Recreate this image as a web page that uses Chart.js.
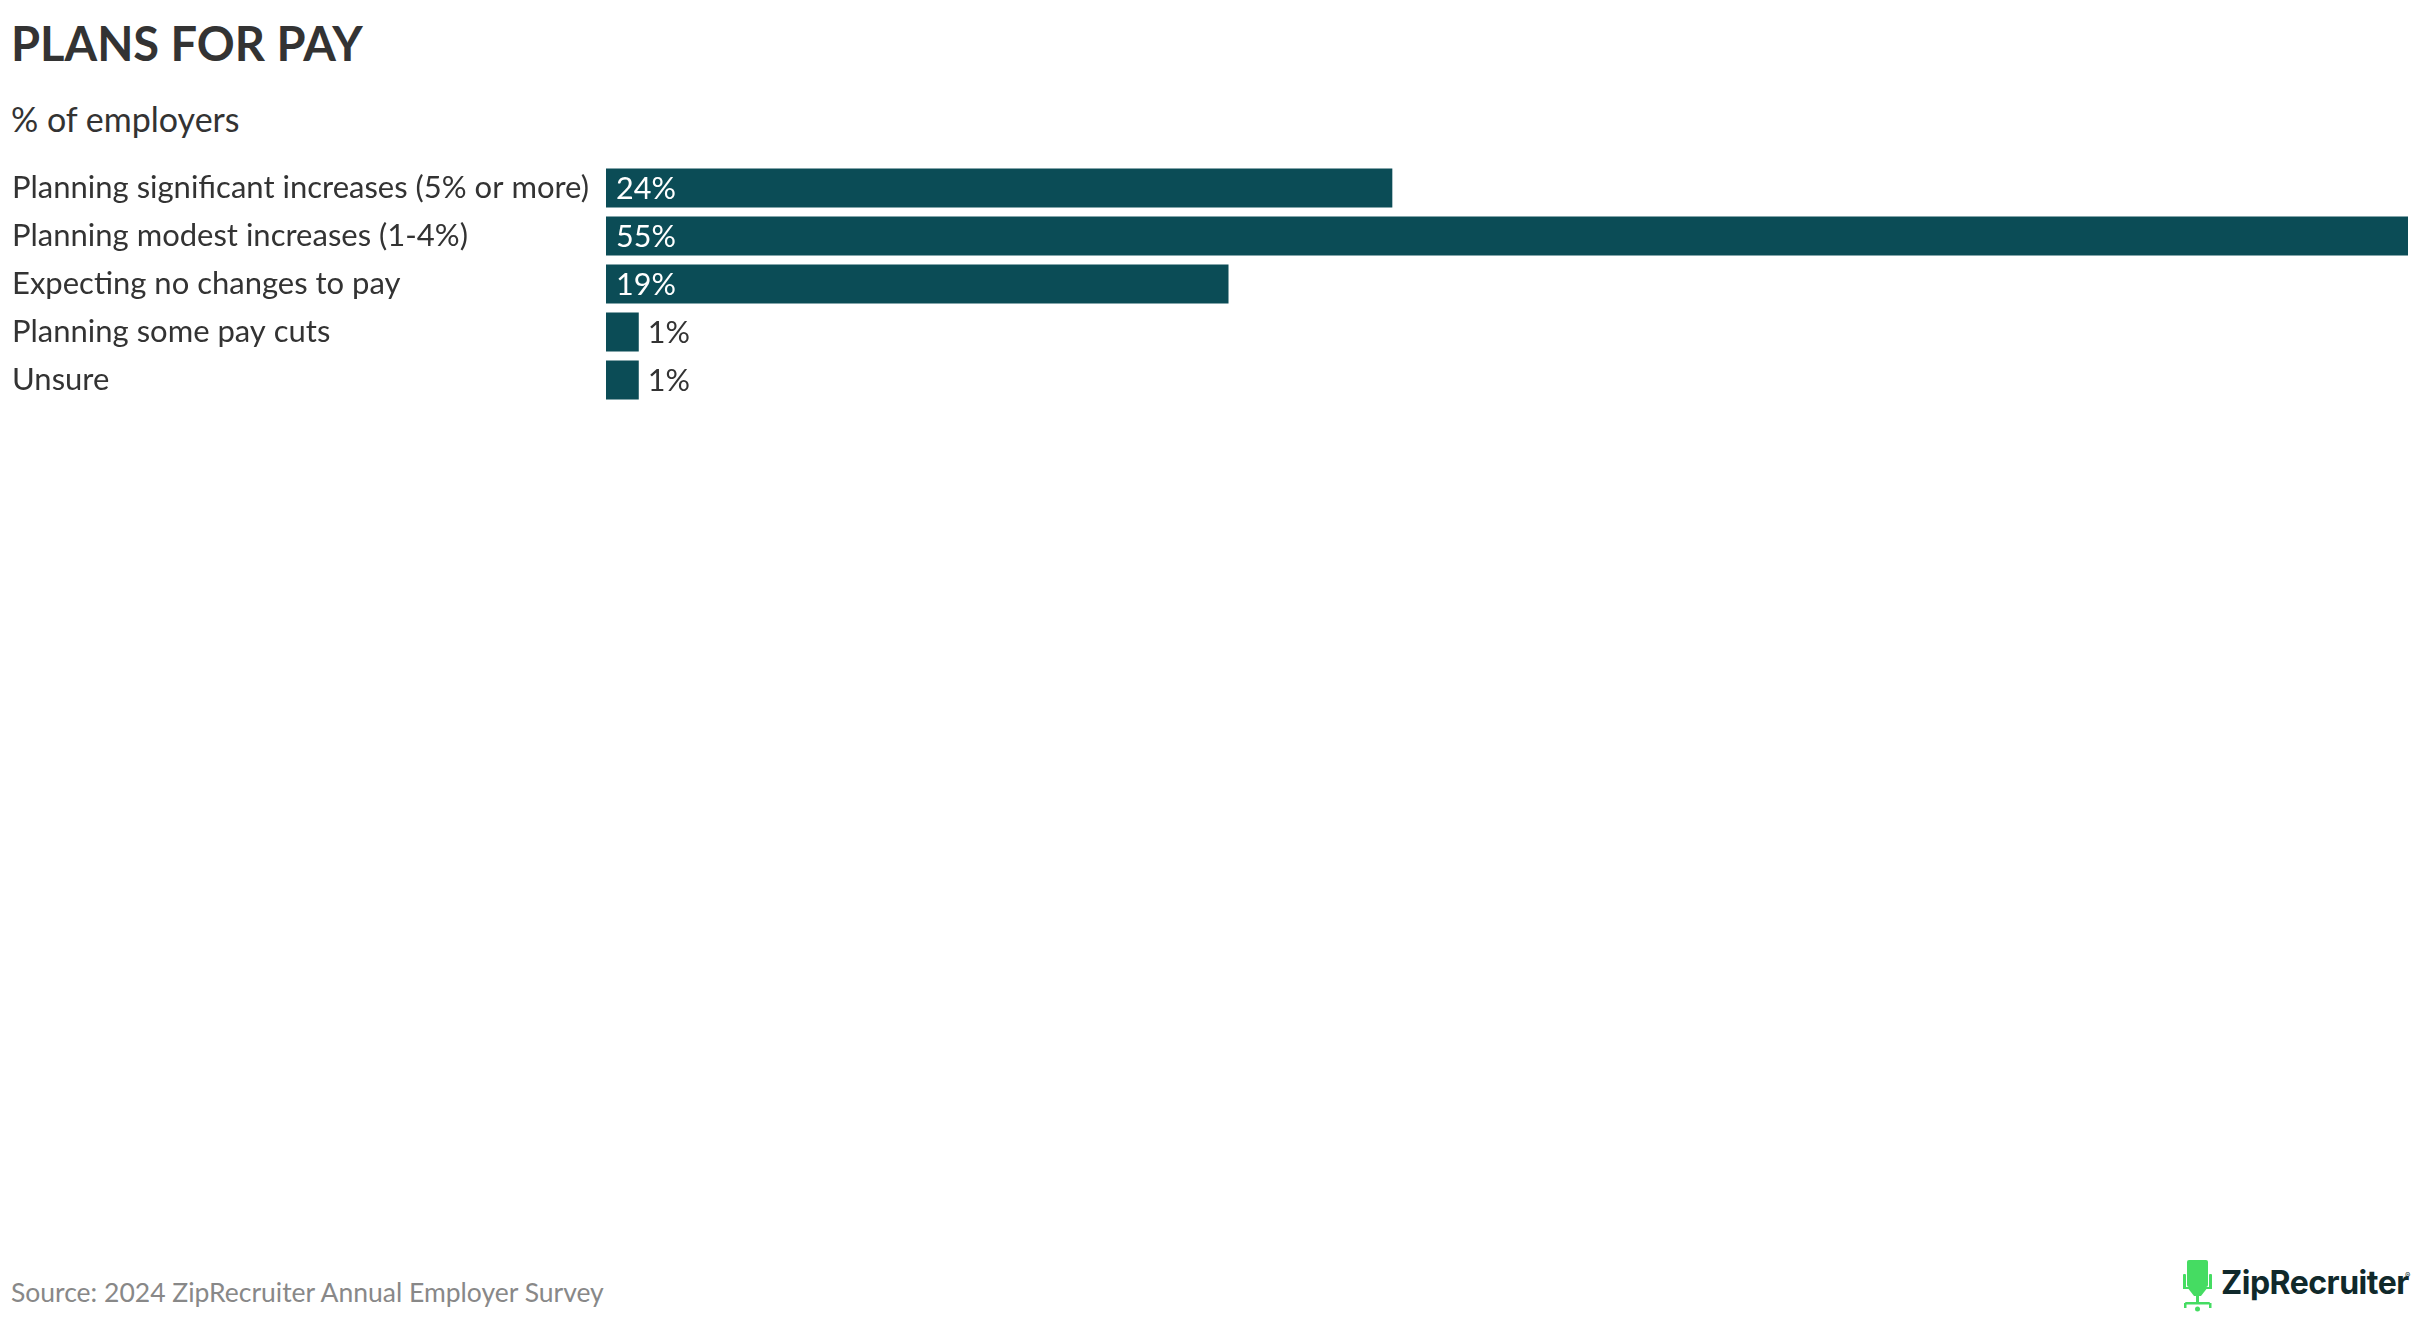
<!DOCTYPE html>
<html>
<head>
<meta charset="utf-8">
<script src="https://cdn.jsdelivr.net/npm/chart.js@4.4.1/dist/chart.umd.min.js"></script>
<style>
  html, body { margin: 0; padding: 0; background: #fff; }
  body { width: 2420px; height: 1320px; position: relative; overflow: hidden; font-family: Lato, "Noto Sans", sans-serif; }
  .txt { position: absolute; white-space: nowrap; line-height: 1; }
  #title { left: 11px; top: 20px; font-size: 47px; font-weight: 700; color: #333; }
  #subtitle { left: 11px; top: 102px; font-size: 34px; color: #333; }
  #source { left: 11px; top: 1279px; font-size: 26.5px; color: #888; }
  #brand { left: 2221px; top: 1267px; font-family: Inter, sans-serif; font-size: 32px; font-weight: 700; color: #10292b; letter-spacing: -0.5px; }
  #reg { left: 2405px; top: 1271px; font-family: Inter, sans-serif; font-size: 8px; color: #10292b; }
  #chair { position: absolute; left: 2182px; top: 1259px; }
  .wrap { position: absolute; left: 0; top: 164px; width: 2420px; height: 240px; }
</style>
</head>
<body>
<div class="txt" id="title">PLANS FOR PAY</div>
<div class="txt" id="subtitle">% of employers</div>

<div class="wrap"><canvas id="myChart"></canvas></div>

<div class="txt" id="source">Source: 2024 ZipRecruiter Annual Employer Survey</div>
<svg id="chair" width="32" height="54" viewBox="0 0 32 54">
  <g fill="#45dc62">
    <rect x="5" y="1" width="21" height="27" rx="2"/>
    <rect x="1" y="15" width="3" height="14" rx="1"/>
    <rect x="27" y="15" width="3" height="14" rx="1"/>
    <rect x="1" y="28" width="6" height="2"/>
    <rect x="24" y="28" width="6" height="2"/>
    <path d="M5 28 L26 28 L19 37 L12 37 Z"/>
    <rect x="14" y="36" width="3" height="8"/>
    <rect x="3" y="43" width="25" height="2.5" rx="1"/>
    <rect x="2" y="44" width="2.5" height="5"/>
    <rect x="27" y="44" width="2.5" height="5"/>
    <circle cx="15.5" cy="50" r="2.5"/>
  </g>
</svg>
<div class="txt" id="brand">ZipRecruiter</div>
<div class="txt" id="reg">®</div>

<script>
const categorias = [
    'Planning significant increases (5% or more)',
    'Planning modest increases (1-4%)',
    'Expecting no changes to pay',
    'Planning some pay cuts',
    'Unsure'
];
const valores = [24, 55, 19, 1, 1];
const etiquetas = ['24%', '55%', '19%', '1%', '1%'];

const colorBarra = '#0b4c56';
const fuente = 'Lato, "Noto Sans", sans-serif';

// Escribe el porcentaje dentro de la barra o al lado si no cabe
const valorPlugin = {
    id: 'valorPlugin',
    afterDatasetsDraw(chart) {
        const ctx = chart.ctx;
        const meta = chart.getDatasetMeta(0);
        ctx.save();
        ctx.font = '30.5px ' + fuente;
        ctx.textBaseline = 'middle';
        ctx.textAlign = 'left';
        meta.data.forEach((bar, i) => {
            const txt = etiquetas[i];
            const ancho = ctx.measureText(txt).width;
            if (bar.x - bar.base > ancho + 20) {
                ctx.fillStyle = '#ffffff';
                ctx.fillText(txt, bar.base + 10, bar.y + 1);
            } else {
                ctx.fillStyle = '#333333';
                ctx.fillText(txt, bar.x + 9, bar.y + 1);
            }
        });
        ctx.restore();
    }
};

const ctx = document.getElementById('myChart');
new Chart(ctx, {
    type: 'bar',
    data: {
        labels: categorias,
        datasets: [{
            data: valores,
            backgroundColor: colorBarra,
            borderWidth: 0,
            categoryPercentage: 1,
            barPercentage: 0.81
        }]
    },
    options: {
        indexAxis: 'y',
        responsive: true,
        maintainAspectRatio: false,
        animation: false,
        layout: { padding: { left: 12, right: 12, top: 0, bottom: 0 } },
        plugins: {
            legend: { display: false },
            tooltip: { enabled: false }
        },
        scales: {
            x: {
                display: false,
                min: 0,
                max: 55
            },
            y: {
                grid: { display: false },
                border: { display: false },
                ticks: {
                    crossAlign: 'far',
                    color: '#333333',
                    padding: 0,
                    font: { family: fuente, size: 31 }
                },
                afterFit(scale) {
                    // ancho fijo de las etiquetas y sin relleno arriba/abajo
                    scale.width = 594;
                    scale.paddingTop = 0;
                    scale.paddingBottom = 0;
                }
            }
        }
    },
    plugins: [valorPlugin]
});
</script>
</body>
</html>
